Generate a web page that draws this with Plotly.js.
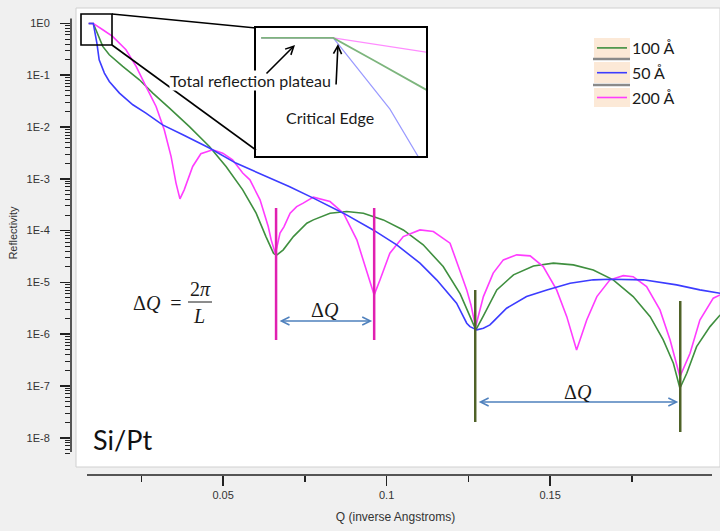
<!DOCTYPE html>
<html><head><meta charset="utf-8">
<script src="https://cdn.plot.ly/plotly-3.0.1.min.js"></script>
<style>html,body{margin:0;padding:0;background:#f0f0f0}</style>
</head><body><div id="chart" style="width:720px;height:531px"></div>
<script>
// ---- data (Q in inverse Angstroms, reflectivity) ----
const seriesNames = ['100 Å', '50 Å', '200 Å'];
const q100 = [0.0089, 0.0103, 0.0111, 0.0132, 0.0152, 0.0193, 0.0244, 0.0285, 0.0336, 0.0397, 0.0458, 0.0509, 0.0560, 0.0601, 0.0631, 0.0654, 0.0663, 0.0684, 0.0715, 0.0756, 0.0776, 0.0827, 0.0878, 0.0929, 0.0990, 0.1051, 0.1112, 0.1173, 0.1225, 0.1255, 0.1273, 0.1296, 0.1337, 0.1388, 0.1449, 0.1510, 0.1571, 0.1632, 0.1693, 0.1754, 0.1806, 0.1846, 0.1877, 0.1897, 0.1918, 0.1948, 0.1989, 0.2020];
const r100 = [1.0, 1.0, 0.756, 0.360, 0.248, 0.148, 0.0817, 0.0452, 0.0232, 0.0102, 0.00421, 0.00173, 6.12e-4, 2.17e-4, 7.67e-5, 3.67e-5, 3.33e-5, 4.25e-5, 7.67e-5, 1.39e-4, 1.61e-4, 2.17e-4, 2.33e-4, 2.17e-4, 1.61e-4, 1.03e-4, 5.31e-5, 2.02e-5, 6.0e-6, 2.18e-6, 1.21e-6, 2.25e-6, 7.16e-6, 1.40e-5, 2.08e-5, 2.35e-5, 2.18e-5, 1.74e-5, 1.12e-5, 5.32e-6, 2.18e-6, 7.74e-7, 2.75e-7, 9.04e-8, 1.76e-7, 5.75e-7, 1.40e-6, 2.35e-6];
const q50 = [0.0089, 0.0103, 0.0114, 0.0121, 0.0137, 0.0152, 0.0183, 0.0224, 0.0264, 0.0315, 0.0377, 0.0458, 0.0539, 0.0621, 0.0702, 0.0776, 0.0868, 0.0959, 0.1031, 0.1102, 0.1153, 0.1214, 0.1245, 0.1255, 0.1276, 0.1296, 0.1316, 0.1326, 0.1367, 0.1428, 0.1490, 0.1561, 0.1632, 0.1683, 0.1785, 0.1887, 0.1958, 0.2020];
const r50 = [1.0, 1.0, 0.418, 0.199, 0.110, 0.0757, 0.0452, 0.0269, 0.0186, 0.0110, 0.00708, 0.00392, 0.00201, 0.00119, 7.10e-4, 4.24e-4, 2.17e-4, 1.03e-4, 5.30e-5, 2.35e-5, 1.12e-5, 3.97e-6, 1.63e-6, 1.40e-6, 1.21e-6, 1.30e-6, 1.51e-6, 1.75e-6, 3.17e-6, 5.32e-6, 7.16e-6, 9.64e-6, 1.12e-5, 1.15e-5, 1.12e-5, 8.95e-6, 7.16e-6, 6.18e-6];
const q200 = [0.0089, 0.0103, 0.0132, 0.0162, 0.0203, 0.0234, 0.0264, 0.0295, 0.0320, 0.0341, 0.0356, 0.0368, 0.0381, 0.0407, 0.0432, 0.0468, 0.0499, 0.0529, 0.0560, 0.0582, 0.0613, 0.0638, 0.0647, 0.0660, 0.0674, 0.0686, 0.0705, 0.0725, 0.0745, 0.0776, 0.0827, 0.0868, 0.0909, 0.0939, 0.0962, 0.0980, 0.1010, 0.1051, 0.1102, 0.1143, 0.1194, 0.1225, 0.1245, 0.1258, 0.1272, 0.1296, 0.1326, 0.1357, 0.1398, 0.1439, 0.1479, 0.1520, 0.1551, 0.1581, 0.1612, 0.1643, 0.1683, 0.1724, 0.1754, 0.1795, 0.1836, 0.1867, 0.1897, 0.1928, 0.1958, 0.1999, 0.2020];
const r200 = [1.0, 1.0, 0.756, 0.561, 0.310, 0.148, 0.0607, 0.0249, 0.00883, 0.00269, 8.26e-4, 4.10e-4, 6.12e-4, 1.73e-3, 3.04e-3, 3.63e-3, 3.13e-3, 2.33e-3, 1.29e-3, 9.55e-4, 3.93e-4, 1.20e-4, 6.62e-5, 3.56e-5, 8.93e-5, 1.18e-4, 2.17e-4, 2.91e-4, 3.39e-4, 4.43e-4, 3.64e-4, 2.17e-4, 6.62e-5, 1.74e-5, 5.73e-6, 1.12e-5, 3.67e-5, 7.67e-5, 1.03e-4, 9.58e-5, 5.72e-5, 1.62e-5, 7.16e-6, 3.67e-6, 1.38e-6, 5.32e-6, 1.51e-5, 2.72e-5, 3.40e-5, 3.25e-5, 2.02e-5, 7.16e-6, 2.18e-6, 4.96e-7, 1.88e-6, 5.32e-6, 1.12e-5, 1.35e-5, 1.29e-5, 8.30e-6, 2.94e-6, 7.74e-7, 1.51e-7, 4.29e-7, 1.88e-6, 4.95e-6, 5.73e-6];
// fringe minima used for the ΔQ markers
const fringe200 = [0.0662, 0.0962];
const fringe100 = [0.1271, 0.1898];
// axis ticks
const xTickVals = [0.05, 0.1, 0.15];
const xTickText = ['0.05', '0.1', '0.15'];
const xMinorVals = [0.025, 0.075, 0.125, 0.175];
const yTickVals = [1, 1e-1, 1e-2, 1e-3, 1e-4, 1e-5, 1e-6, 1e-7, 1e-8];
const yTickText = ['1E0', '1E-1', '1E-2', '1E-3', '1E-4', '1E-5', '1E-6', '1E-7', '1E-8'];

// ---- styling / layout ----
const colors = {g: '#3f8f3f', b: '#3c3cff', m: '#ff3cff'};
const W = 720, H = 531, ML = 71, MR = 0, MT = 8, MB = 56;
const PW = W - ML - MR, PH = H - MT - MB;
const fx = x => (x - ML) / PW;
const fy = y => (H - MB - y) / PH;
const yRange = [-8.391, 0.298];
const yDomain = [fy(458), 1];

// minor log ticks (2..9 in each decade, down to the axis end)
const yMinor = [];
for (let k = 1; k <= 9; k++) {
  for (let d = 2; d <= 9; d++) {
    const v = d * Math.pow(10, -k);
    if (v >= 4e-9) yMinor.push(v);
  }
}

const traces = [
  {x: q100, y: r100, name: seriesNames[0], mode: 'lines', line: {color: colors.g, width: 1.6}, legendgroup: 'a'},
  {x: q50, y: r50, name: seriesNames[1], mode: 'lines', yaxis: 'y3', line: {color: colors.b, width: 1.6}, legendgroup: 'b'},
  {x: q200, y: r200, name: seriesNames[2], mode: 'lines', line: {color: colors.m, width: 1.6}, legendgroup: 'c'},
  // zoomed inset of the same data
  {x: q50, y: r50, xaxis: 'x2', yaxis: 'y2', mode: 'lines', showlegend: false, line: {color: '#9a9aff', width: 1.2}},
  {x: q200, y: r200, xaxis: 'x2', yaxis: 'y2', mode: 'lines', showlegend: false, line: {color: '#ff8cff', width: 1.2}},
  {x: q100, y: r100, xaxis: 'x2', yaxis: 'y2', mode: 'lines', showlegend: false, line: {color: '#7db57d', width: 1.8}}
];

const axFont = {family: 'Liberation Sans, Arial, sans-serif', size: 11, color: '#333'};
const lab = {family: 'Lato, sans-serif', size: 16, color: '#1a1a1a'};
const serif = {family: 'Liberation Serif, serif', size: 20, color: '#1a1a1a'};

const shapes = [
  {type: 'rect', xref: 'paper', yref: 'paper', x0: fx(76), x1: fx(720), y0: fy(467), y1: fy(8), fillcolor: '#ffffff', line: {color: '#d0d0d0', width: 1}, layer: 'below'},
  {type: 'line', xref: 'paper', yref: 'paper', x0: fx(71), x1: fx(71), y0: fy(18.5), y1: fy(452), line: {color: '#222', width: 1.5}},
  {type: 'line', xref: 'paper', yref: 'paper', x0: fx(87), x1: fx(712), y0: fy(475), y1: fy(475), line: {color: '#222', width: 1.5}},
  // zoom box and connectors
  {type: 'rect', xref: 'paper', yref: 'paper', x0: fx(81), x1: fx(112), y0: fy(45), y1: fy(14), line: {color: '#000', width: 1.6}},
  {type: 'line', xref: 'paper', yref: 'paper', x0: fx(112), x1: fx(256), y0: fy(14), y1: fy(28), line: {color: '#000', width: 1.6}},
  {type: 'line', xref: 'paper', yref: 'paper', x0: fx(112), x1: fx(256), y0: fy(45), y1: fy(150), line: {color: '#000', width: 1.6}},
  {type: 'rect', xref: 'paper', yref: 'paper', x0: fx(255), x1: fx(427), y0: fy(157), y1: fy(27), line: {color: '#000', width: 2}},
  // fringe markers
  {type: 'line', xref: 'x', yref: 'paper', x0: fringe200[0], x1: fringe200[0], y0: fy(208), y1: fy(340), line: {color: '#e020b0', width: 2.5}},
  {type: 'line', xref: 'x', yref: 'paper', x0: fringe200[1], x1: fringe200[1], y0: fy(208), y1: fy(340), line: {color: '#e020b0', width: 2.5}},
  {type: 'line', xref: 'x', yref: 'paper', x0: fringe100[0], x1: fringe100[0], y0: fy(290), y1: fy(422), line: {color: '#4f6228', width: 2.5}},
  {type: 'line', xref: 'x', yref: 'paper', x0: fringe100[1], x1: fringe100[1], y0: fy(301), y1: fy(432), line: {color: '#4f6228', width: 2.5}},
  // fraction bar
  {type: 'line', xref: 'paper', yref: 'paper', x0: fx(188), x1: fx(212), y0: fy(302), y1: fy(302), line: {color: '#1a1a1a', width: 1}},
  // legend swatches
  {type: 'rect', xref: 'paper', yref: 'paper', x0: fx(594), x1: fx(630), y0: fy(58), y1: fy(38), fillcolor: '#fce9d7', line: {width: 0}},
  {type: 'rect', xref: 'paper', yref: 'paper', x0: fx(594), x1: fx(630), y0: fy(83), y1: fy(62), fillcolor: '#fce9d7', line: {width: 0}},
  {type: 'rect', xref: 'paper', yref: 'paper', x0: fx(594), x1: fx(630), y0: fy(107), y1: fy(88), fillcolor: '#fce9d7', line: {width: 0}},
  {type: 'line', xref: 'paper', yref: 'paper', x0: fx(593), x1: fx(630), y0: fy(59), y1: fy(59), line: {color: '#8a8a8a', width: 2.5}},
  {type: 'line', xref: 'paper', yref: 'paper', x0: fx(593), x1: fx(630), y0: fy(85), y1: fy(85), line: {color: '#8a8a8a', width: 2.5}}
];

const annotations = [
  {xref: 'paper', yref: 'paper', x: fx(250), y: fy(80), text: 'Total reflection plateau', showarrow: false, font: lab, xanchor: 'center', yanchor: 'middle', bgcolor: '#ffffff', borderpad: 0},
  {xref: 'paper', yref: 'paper', x: fx(330), y: fy(117), text: 'Critical Edge', showarrow: false, font: lab, xanchor: 'center', yanchor: 'middle'},
  {xref: 'paper', yref: 'paper', x: fx(295), y: fy(45), text: '', showarrow: true, ax: -30, ay: 30, arrowhead: 5, arrowwidth: 1.6, arrowcolor: '#000', arrowsize: 1},
  {xref: 'paper', yref: 'paper', x: fx(338), y: fy(44), text: '', showarrow: true, ax: -2, ay: 42, arrowhead: 5, arrowwidth: 1.6, arrowcolor: '#000', arrowsize: 1},
  {xref: 'paper', yref: 'paper', x: fx(122.5), y: fy(439), text: 'Si/Pt', showarrow: false, font: {family: 'Lato, sans-serif', size: 27, color: '#111'}, xanchor: 'center', yanchor: 'middle'},
  {xref: 'paper', yref: 'paper', x: fx(157), y: fy(303), text: 'Δ<i>Q</i>\u2002=', showarrow: false, font: serif, xanchor: 'center', yanchor: 'middle'},
  {xref: 'paper', yref: 'paper', x: fx(200), y: fy(289), text: '2<i>π</i>', showarrow: false, font: serif, xanchor: 'center', yanchor: 'middle'},
  {xref: 'paper', yref: 'paper', x: fx(199), y: fy(316), text: '<i>L</i>', showarrow: false, font: serif, xanchor: 'center', yanchor: 'middle'},
  // ΔQ arrows
  {xref: 'x', yref: 'paper', x: fringe200[1], y: fy(321), axref: 'x', ax: fringe200[0], ayref: 'pixel', ay: 0, text: '', showarrow: true, arrowside: 'end+start', arrowhead: 5, startarrowhead: 5, arrowwidth: 1.6, arrowcolor: '#4f81bd', standoff: 2, startstandoff: 2},
  {xref: 'x', yref: 'paper', x: (fringe200[0] + fringe200[1]) / 2, y: fy(310), text: 'Δ<i>Q</i>', showarrow: false, font: serif, xanchor: 'center', yanchor: 'middle'},
  {xref: 'x', yref: 'paper', x: fringe100[1], y: fy(402), axref: 'x', ax: fringe100[0], ayref: 'pixel', ay: 0, text: '', showarrow: true, arrowside: 'end+start', arrowhead: 5, startarrowhead: 5, arrowwidth: 1.6, arrowcolor: '#4f81bd', standoff: 2, startstandoff: 2},
  {xref: 'x', yref: 'paper', x: (fringe100[0] + fringe100[1]) / 2, y: fy(392), text: 'Δ<i>Q</i>', showarrow: false, font: serif, xanchor: 'center', yanchor: 'middle'}
];

const layout = {
  width: W, height: H,
  margin: {l: ML, r: MR, t: MT, b: MB, pad: 0},
  paper_bgcolor: '#f0f0f0',
  plot_bgcolor: 'rgba(0,0,0,0)',
  showlegend: true,
  legend: {x: fx(592), y: fy(31), xanchor: 'left', yanchor: 'top', bgcolor: 'rgba(0,0,0,0)', borderwidth: 0,
           font: {family: 'Lato, sans-serif', size: 16, color: '#1a1a1a'}, tracegroupgap: 1, itemwidth: 30},
  xaxis: {
    range: [(ML - 59.6) / 3270, (720 - 59.6) / 3270],
    domain: [0, 1], anchor: 'free', position: 0,
    tickmode: 'array', tickvals: xTickVals, ticktext: xTickText,
    ticks: 'outside', ticklen: 10, tickwidth: 1.5, tickcolor: '#222',
    minor: {tickmode: 'array', tickvals: xMinorVals, ticks: 'outside', ticklen: 6, tickwidth: 1.5, tickcolor: '#222', showgrid: false},
    showline: false, showgrid: false, zeroline: false,
    tickfont: axFont,
    title: {text: 'Q (inverse Angstroms)', font: {family: 'Liberation Sans, Arial, sans-serif', size: 12, color: '#333'}}
  },
  // main y axis: labelled decades
  yaxis: {
    type: 'log', range: yRange, domain: yDomain, anchor: 'x',
    tickmode: 'array', tickvals: yTickVals, ticktext: yTickText,
    ticks: 'outside', ticklen: 10, tickwidth: 1.5, tickcolor: '#222',
    ticklabelstandoff: 8,
    showline: false, showgrid: false, zeroline: false,
    tickfont: axFont,
    title: {text: 'Reflectivity', standoff: 6, font: {family: 'Liberation Sans, Arial, sans-serif', size: 11, color: '#333'}}
  },
  // overlaid y axis with the same scale: minor log ticks
  yaxis3: {
    type: 'log', range: yRange, overlaying: 'y', anchor: 'x', side: 'left',
    tickmode: 'array', tickvals: yMinor, ticks: 'outside', ticklen: 5, tickwidth: 1, tickcolor: '#222',
    showticklabels: false, showline: false, showgrid: false, zeroline: false
  },
  xaxis2: {domain: [fx(256), fx(426)], range: [0.0088, 0.0121], anchor: 'y2', visible: false},
  yaxis2: {type: 'log', domain: [fy(156), fy(28)], range: [-0.628, 0.053], anchor: 'x2', visible: false},
  shapes: shapes,
  annotations: annotations
};

Plotly.newPlot('chart', traces, layout, {displayModeBar: false, staticPlot: true});
</script>
</body></html>
